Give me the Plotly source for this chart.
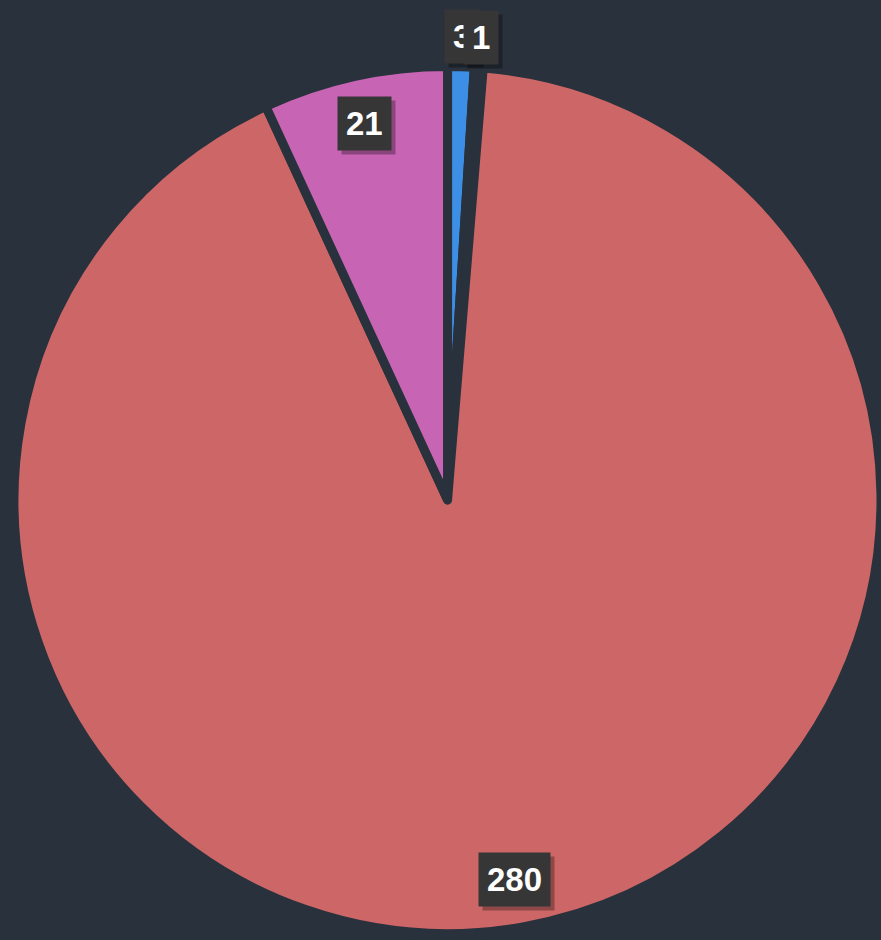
import math
import plotly.graph_objects as go

# ---- data ----
labels = ["A", "B", "C", "D"]
values = [3, 1, 280, 21]
label_text = ["3", "1", "280", "21"]
colors = ["#3d8fe6", "#2c3641", "#cd6767", "#c864b4"]

W, H = 881, 940
BG = "#29313c"

dom_x = [0.016, 1.0]
dom_y = [0.0069, 0.9293]

fig = go.Figure(go.Pie(
    labels=labels,
    values=values,
    sort=False,
    direction="clockwise",
    rotation=0,
    marker=dict(colors=colors, line=dict(color=BG, width=9)),
    textinfo="none",
    hoverinfo="label+value",
    domain=dict(x=dom_x, y=dom_y),
    showlegend=False,
))

# label positions derived from slice angles
cx = W * (dom_x[0] + dom_x[1]) / 2
cy_from_bottom = H * (dom_y[0] + dom_y[1]) / 2
r = min(W * (dom_x[1] - dom_x[0]), H * (dom_y[1] - dom_y[0])) / 2
total = sum(values)
cum = 0
anns = []
for v, t in zip(values, label_text):
    span = v / total * 360
    mid = math.radians(cum + span / 2)
    cum += span
    f = 1.07 if span < 10 else 0.89
    px = cx + f * r * math.sin(mid)
    py = cy_from_bottom + f * r * math.cos(mid)
    common = dict(xref="paper", yref="paper", xanchor="center", yanchor="middle",
                  showarrow=False, text="<b>" + t + "</b>", borderpad=8)
    # shadow
    anns.append(dict(x=(px + 4) / W, y=(py - 4) / H,
                     font=dict(family="Liberation Sans, Arial", size=33, color="rgba(0,0,0,0)"),
                     bgcolor="rgba(0,0,0,0.3)", **common))
    anns.append(dict(x=px / W, y=py / H,
                     font=dict(family="Liberation Sans, Arial", size=33, color="#ffffff"),
                     bgcolor="#363636", **common))

fig.update_layout(
    width=W, height=H,
    margin=dict(l=0, r=0, t=0, b=0),
    paper_bgcolor=BG,
    plot_bgcolor=BG,
    annotations=anns,
)

fig.write_html("out.html", config={"displayModeBar": False},
               post_script="document.body.style.margin='0';document.body.style.background='%s';" % BG)
